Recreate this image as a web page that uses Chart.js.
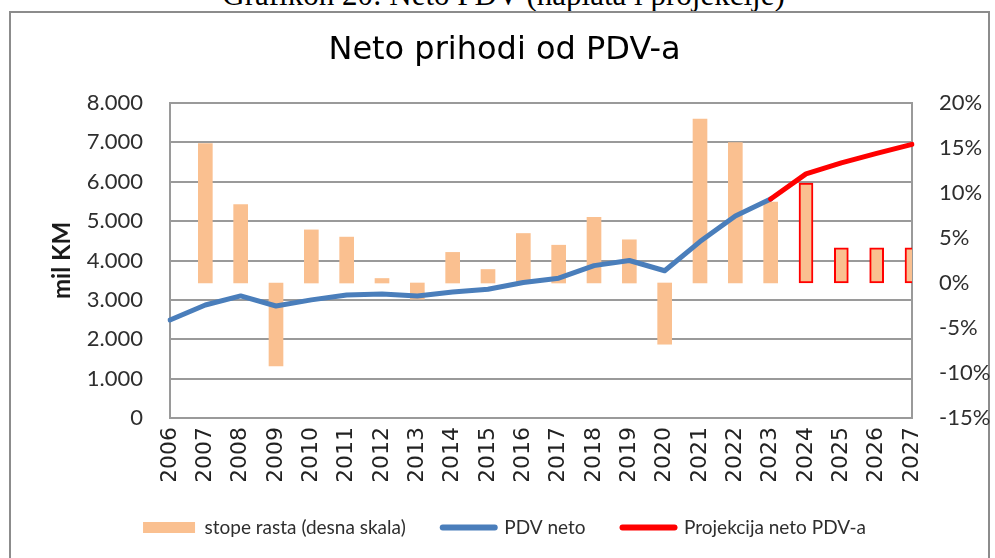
<!DOCTYPE html>
<html>
<head>
<meta charset="utf-8">
<script src="https://cdn.jsdelivr.net/npm/chart.js@4.4.1/dist/chart.umd.min.js"></script>
<style>
  html, body { margin: 0; padding: 0; background: #fff; overflow: hidden; }
  #okvir {
    position: absolute; left: 9px; top: 11px; width: 981px; height: 600px;
    border: 2px solid #8c8c8c; box-sizing: border-box;
  }
  #naslov {
    position: absolute; left: 6px; top: -21px; width: 995px; text-align: center;
    font-family: "Liberation Serif", serif; font-size: 31px; line-height: 31px; color: #000;
  }
  #graf { position: absolute; left: 0; top: 0; width: 995px; height: 558px; }
</style>
</head>
<body>
<div id="naslov">Grafikon 20: Neto PDV (naplata i projekcije)</div>
<div id="okvir"></div>
<div id="graf"><canvas id="myChart"></canvas></div>
<script>
// godine (kategorije)
const godine = ["2006", "2007", "2008", "2009", "2010", "2011", "2012", "2013", "2014", "2015", "2016",
  "2017", "2018", "2019", "2020", "2021", "2022", "2023", "2024", "2025", "2026", "2027"];

// stope rasta u % (desna skala)
const stopeRasta = [null, 15.5, 8.7, -9.2, 5.9, 5.1, 0.5, -1.8, 3.4, 1.5, 5.5,
  4.2, 7.3, 4.8, -6.8, 18.2, 15.6, 9.0, 11.1, 3.9, 3.9, 3.9];

// PDV neto, mil KM
const pdvNeto = [2490, 2870, 3100, 2845, 3000, 3125, 3150, 3100, 3200, 3270, 3440,
  3550, 3870, 4000, 3740, 4480, 5130, 5560, null, null, null, null];

// projekcija neto PDV-a, mil KM
const projekcija = [null, null, null, null, null, null, null, null, null, null, null,
  null, null, null, null, null, null, 5560, 6200, 6480, 6720, 6950];

// skale: min, max, korak
const lijevaSkala = [0, 8000, 1000];
const desnaSkala = [-15, 20, 5];

const legenda = ["stope rasta (desna skala)", "PDV neto", "Projekcija neto PDV-a"];

const ORANGE = "#FAC090";
const BLUE = "#4A7EBB";
const RED = "#FF0000";
const GRID = "#9a9a9a";
const TXT = "#2e2e2e";

let jeProjekcija = (g) => +g >= 2024;

let formatKM = (v) => {
  if (v === 0) return "0";
  return (v / 1000) + ".000";
};

const ctx = document.getElementById("myChart").getContext("2d");

const myChart = new Chart(ctx, {
  data: {
    labels: godine,
    datasets: [
      {
        type: "line",
        label: legenda[2],
        data: projekcija,
        yAxisID: "y",
        borderColor: RED,
        borderWidth: 5,
        borderCapStyle: "round",
        borderJoinStyle: "round",
        pointRadius: 0,
        tension: 0,
        order: 1,
      },
      {
        type: "line",
        label: legenda[1],
        data: pdvNeto,
        yAxisID: "y",
        borderColor: BLUE,
        borderWidth: 5,
        borderCapStyle: "round",
        borderJoinStyle: "round",
        pointRadius: 0,
        tension: 0,
        order: 2,
      },
      {
        type: "bar",
        label: legenda[0],
        data: stopeRasta,
        yAxisID: "y1",
        backgroundColor: ORANGE,
        borderColor: godine.map((g) => (jeProjekcija(g) ? RED : ORANGE)),
        borderWidth: godine.map((g) => (jeProjekcija(g) ? 2 : 0)),
        borderSkipped: false,
        barThickness: 14,
        clip: 0,
        order: 3,
      },
    ],
  },
  options: {
    responsive: true,
    maintainAspectRatio: false,
    animation: false,
    layout: {
      padding: { left: 14, right: 0, top: 0, bottom: 11 },
    },
    plugins: {
      tooltip: { enabled: false },
      title: {
        display: true,
        text: "Neto prihodi od PDV-a",
        color: "#000",
        font: { family: "DejaVu Sans", size: 32, weight: "normal" },
        padding: { top: 31, bottom: 33.6 },
      },
      legend: {
        position: "bottom",
        labels: {
          usePointStyle: true,
          pointStyleWidth: 52,
          boxHeight: 11,
          padding: 37,
          color: TXT,
          font: { family: "Lato", size: 19 },
          generateLabels: () => [
            {
              text: legenda[0],
              fillStyle: ORANGE,
              strokeStyle: ORANGE,
              lineWidth: 0,
              pointStyle: "rect",
              fontColor: TXT,
              hidden: false,
              datasetIndex: 2,
            },
            {
              text: legenda[1],
              fillStyle: BLUE,
              strokeStyle: BLUE,
              lineWidth: 6,
              lineCap: "round",
              pointStyle: "line",
              fontColor: TXT,
              hidden: false,
              datasetIndex: 1,
            },
            {
              text: legenda[2],
              fillStyle: RED,
              strokeStyle: RED,
              lineWidth: 6,
              lineCap: "round",
              pointStyle: "line",
              fontColor: TXT,
              hidden: false,
              datasetIndex: 0,
            },
          ],
        },
      },
    },
    scales: {
      x: {
        type: "category",
        offset: false,
        grid: { display: false, drawTicks: false },
        border: { display: true, color: GRID, width: 2 },
        ticks: {
          autoSkip: false,
          minRotation: 90,
          maxRotation: 90,
          padding: 9,
          color: "#222",
          font: { family: "DejaVu Sans", size: 22 },
        },
        afterFit: (scale) => {
          scale.height = 63;
        },
      },
      y: {
        position: "left",
        min: lijevaSkala[0],
        max: lijevaSkala[1],
        grid: { color: GRID, lineWidth: 2, drawTicks: false },
        border: { display: true, color: GRID, width: 2 },
        ticks: {
          stepSize: lijevaSkala[2],
          padding: 27,
          color: TXT,
          font: { family: "Lato", size: 22 },
          callback: (v) => formatKM(v),
        },
        title: {
          display: true,
          text: "mil KM",
          color: "#1a1a1a",
          font: { family: "Lato", size: 24, weight: "bold" },
          padding: { top: 34, bottom: 0 },
        },
        afterFit: (scale) => {
          scale.width = 156;
        },
      },
      y1: {
        position: "right",
        min: desnaSkala[0],
        max: desnaSkala[1],
        grid: { display: false, drawTicks: false },
        border: { display: true, color: GRID, width: 2 },
        ticks: {
          stepSize: desnaSkala[2],
          padding: 27,
          color: TXT,
          font: { family: "Lato", size: 22 },
          callback: (v) => v + "%",
        },
        afterFit: (scale) => {
          scale.width = 83;
        },
      },
    },
  },
});
</script>
</body>
</html>
